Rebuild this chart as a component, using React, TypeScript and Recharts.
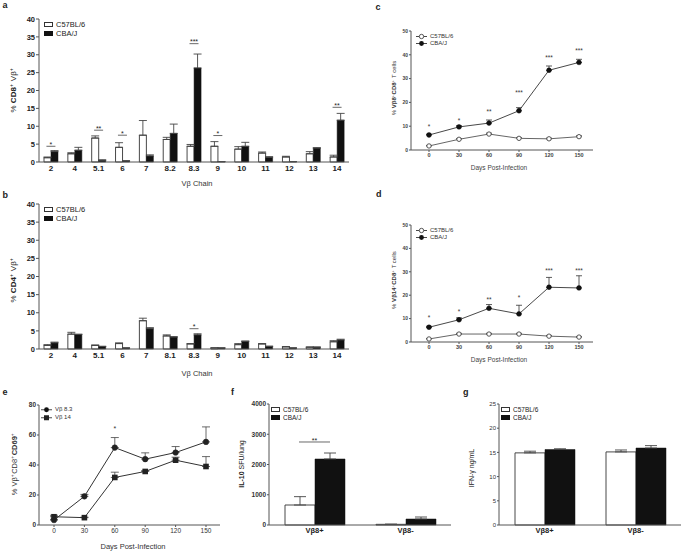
import React from 'react';
import { BarChart, Bar, LineChart, Line, XAxis, YAxis, ErrorBar, ReferenceDot, Legend } from 'recharts';

const FONT = "'Liberation Sans', Arial, Helvetica, sans-serif";

// ---------- Panel a: CD8+ Vβ ----------
const aCats = ['2', '4', '5.1', '6', '7', '8.2', '8.3', '9', '10', '11', '12', '13', '14'];
const aB6 = [1.2, 2.3, 6.7, 4.1, 7.5, 6.3, 4.4, 4.4, 3.6, 2.5, 1.4, 2.3, 1.4];
const aB6Err = [0.2, 0.3, 0.6, 1.3, 4.1, 0.6, 0.5, 1.3, 0.7, 0.3, 0.2, 0.6, 0.5];
const aCBA = [2.9, 3.3, 0.5, 0.3, 1.7, 8.0, 26.3, 0.1, 4.4, 1.3, 0.1, 3.9, 11.7];
const aCBAErr = [0.3, 0.8, 0.1, 0.05, 0.3, 2.6, 3.9, 0, 1.1, 0.2, 0, 0.1, 1.9];
const aSigCats = ['2', '5.1', '6', '8.3', '9', '14'];
const aSigLabels = ['*', '**', '*', '***', '*', '**'];
const aSigY = [4.4, 8.9, 7.5, 33.1, 7.4, 15.3];

// ---------- Panel b: CD4+ Vβ ----------
const bCats = ['2', '4', '5.1', '6', '7', '8.1', '8.3', '9', '10', '11', '12', '13', '14'];
const bB6 = [1.0, 4.1, 1.0, 1.5, 7.8, 3.6, 1.4, 0.3, 1.2, 1.4, 0.6, 0.5, 2.0];
const bB6Err = [0.2, 0.5, 0.1, 0.2, 0.7, 0.3, 0.1, 0, 0.3, 0.1, 0.05, 0.05, 0.3];
const bCBA = [1.7, 4.0, 0.7, 0.3, 5.6, 3.3, 3.9, 0.3, 2.1, 0.7, 0.3, 0.5, 2.5];
const bCBAErr = [0.2, 0.1, 0.05, 0, 0.3, 0.1, 0.3, 0, 0.1, 0.1, 0, 0.05, 0.2];
const bSigCats = ['8.3'];
const bSigLabels = ['*'];
const bSigY = [5.6];

const vbTicks = [0, 5, 10, 15, 20, 25, 30, 35, 40];

// ---------- Panels c, d: time course ----------
const days = [0, 30, 60, 90, 120, 150];
const dayTicks = [0, 30, 60, 90, 120, 150];
const pctTicks = [0, 10, 20, 30, 40, 50];

const cB6 = [1.7, 4.5, 6.7, 4.9, 4.7, 5.6];
const cB6Err = [0.2, 0.3, 0.4, 0.3, 0.3, 0.4];
const cCBA = [6.3, 9.7, 11.3, 16.5, 33.5, 36.8];
const cCBAErr = [0.3, 0.5, 1.3, 1.3, 1.8, 1.3];
const cSig = ['*', '*', '**', '***', '***', '***'];
const cSigY = [10.4, 12.9, 16.8, 24.9, 39.2, 42.4];

const dB6 = [1.3, 3.4, 3.4, 3.4, 2.5, 2.1];
const dB6Err = [0.2, 0.3, 0.3, 0.3, 0.3, 0.2];
const dCBA = [6.3, 9.5, 14.4, 12.0, 23.4, 23.1];
const dCBAErr = [0.4, 0.8, 1.6, 3.7, 4.2, 5.2];
const dSig = ['*', '*', '**', '*', '***', '***'];
const dSigY = [10.8, 13.4, 18.5, 19.4, 31.3, 31.3];

// ---------- Panel e: CD69 ----------
const e83 = [3.3, 19.1, 51.6, 43.9, 48.3, 55.4];
const e83Err = [0.5, 1.3, 6.7, 4.2, 4.0, 10.0];
const e14 = [5.5, 4.9, 31.7, 35.7, 43.2, 39.0];
const e14Err = [1.0, 0.3, 3.5, 0.5, 2.0, 6.6];
const eTicks = [0, 20, 40, 60, 80];
const eSigDay = 60;
const eSigY = 65.4;

// ---------- Panel f: IL-10 ----------
const fCats = ['Vβ8+', 'Vβ8-'];
const fB6 = [661, 22];
const fB6Err = [276, 5];
const fCBA = [2182, 198];
const fCBAErr = [198, 66];
const fTicks = [0, 1000, 2000, 3000, 4000];
const fSigY = 2744;

// ---------- Panel g: IFN-γ ----------
const gCats = ['Vβ8+', 'Vβ8-'];
const gB6 = [14.9, 15.1];
const gB6Err = [0.35, 0.4];
const gCBA = [15.6, 15.9];
const gCBAErr = [0.15, 0.5];
const gTicks = [0, 5, 10, 15, 20, 25];

// ---------- data builders ----------
const barRows = (cats: string[], w: number[], we: number[], k: number[], ke: number[]) =>
  cats.map((c, i) => ({ cat: c, b6: w[i], b6e: [0, we[i]], cba: k[i], cbae: [0, ke[i]] }));

const lineRows = (w: number[], we: number[], k: number[], ke: number[]) =>
  days.map((d, i) => ({ day: d, s1: w[i], s1e: [0, we[i]], s2: k[i], s2e: [0, ke[i]] }));

const aData = barRows(aCats, aB6, aB6Err, aCBA, aCBAErr);
const bData = barRows(bCats, bB6, bB6Err, bCBA, bCBAErr);
const cData = lineRows(cB6, cB6Err, cCBA, cCBAErr);
const dData = lineRows(dB6, dB6Err, dCBA, dCBAErr);
const eData = lineRows(e83, e83Err, e14, e14Err);
const fData = barRows(fCats, fB6, fB6Err, fCBA, fCBAErr);
const gData = barRows(gCats, gB6, gB6Err, gCBA, gCBAErr);

const AX = '#555';

// ---------- shapes ----------
const sigBarShape = (label: string, half: number, fs: number) => (p: any) => {
  const { cx, cy } = p;
  return (
    <g>
      <line x1={cx - half} x2={cx + half} y1={cy} y2={cy} stroke="#444" strokeWidth={0.8} />
      <text x={cx} y={cy - 3.3 + fs * 0.58} textAnchor="middle" fontSize={fs} fontFamily={FONT} fill="#222">
        {label}
      </text>
    </g>
  );
};

const sigText = (label: string, fs: number) => (p: any) => {
  const { cx, cy } = p;
  return (
    <text x={cx} y={cy + fs * 0.58} textAnchor="middle" fontSize={fs} fontFamily={FONT} fill="#333">
      {label}
    </text>
  );
};

const SquareDot = (p: any) => {
  const { cx, cy } = p;
  if (cx == null || cy == null) return null;
  return <rect x={cx - 2.8} y={cy - 2.8} width={5.6} height={5.6} fill="#222" />;
};

// ---------- legends ----------
const BarLegend = ({ fs, rowH }: { fs: number; rowH: number }) => (
  <div style={{ fontFamily: FONT, fontSize: fs, color: '#222', lineHeight: `${rowH}px` }}>
    <div style={{ display: 'flex', alignItems: 'center', height: rowH, whiteSpace: 'nowrap' }}>
      <span style={{ display: 'inline-block', width: 7, height: 3, border: '1px solid #333', background: '#fff', marginRight: 3 }} />
      C57BL/6
    </div>
    <div style={{ display: 'flex', alignItems: 'center', height: rowH, whiteSpace: 'nowrap' }}>
      <span style={{ display: 'inline-block', width: 9, height: 5, background: '#111', marginRight: 3 }} />
      CBA/J
    </div>
  </div>
);

const LineLegend = ({ fs, rowH, labels, shapes }: { fs: number; rowH: number; labels: string[]; shapes: string[] }) => (
  <div style={{ fontFamily: FONT, fontSize: fs, color: '#333', lineHeight: `${rowH}px` }}>
    {labels.map((l, i) => (
      <div key={l} style={{ display: 'flex', alignItems: 'center', height: rowH, whiteSpace: 'nowrap' }}>
        <svg width={11} height={rowH} style={{ marginRight: 3 }}>
          <line x1={0} x2={11} y1={rowH / 2} y2={rowH / 2} stroke="#333" strokeWidth={0.9} />
          {shapes[i] === 'open' && <circle cx={5.5} cy={rowH / 2} r={2.2} fill="#fff" stroke="#444" strokeWidth={0.9} />}
          {shapes[i] === 'filled' && <circle cx={5.5} cy={rowH / 2} r={2.4} fill="#111" />}
          {shapes[i] === 'square' && <rect x={3} y={rowH / 2 - 2.5} width={5} height={5} fill="#222" />}
        </svg>
        {l}
      </div>
    ))}
  </div>
);

const legendProps = {
  layout: 'horizontal' as const,
  verticalAlign: 'middle' as const,
  align: 'center' as const,
};

// ---------- frame axes (top & right) ----------
const frameTop = (dataKey: string, type: 'category' | 'number', domain?: any) => (
  <XAxis xAxisId="top" orientation="top" dataKey={dataKey} type={type} domain={domain} height={0} tick={false} tickLine={false} axisLine={{ stroke: AX }} />
);
const frameRight = () => (
  <YAxis yAxisId="r" orientation="right" width={0} domain={[0, 1]} tick={false} tickLine={false} axisLine={{ stroke: AX }} />
);

// ---------- panel components ----------
function VbPanel({ data, sigCats, sigLabels, sigY, top, height }: any) {
  return (
    <div style={{ position: 'absolute', left: 0, top }}>
      <BarChart width={354} height={height} data={data} margin={{ top: 19, right: 5, left: 0, bottom: 0 }} barGap={0}>
        {frameTop('cat', 'category')}
        {frameRight()}
        <XAxis dataKey="cat" height={30} tickLine={false} tickSize={0} tickMargin={3} axisLine={{ stroke: AX }}
          tick={{ fontSize: 8, fontWeight: 700, fill: '#222', fontFamily: FONT }} interval={0} />
        <YAxis width={39} domain={[0, 40]} ticks={vbTicks} interval={0} tickSize={3} tickMargin={1} axisLine={{ stroke: AX }}
          tickLine={{ stroke: AX }} tick={{ fontSize: 7.5, fontWeight: 700, fill: '#222', fontFamily: FONT }} />
        <Legend {...legendProps} wrapperStyle={{ left: 44, top: 20, width: 80, height: 20 }}
          content={() => <BarLegend fs={7.5} rowH={9} />} />
        <Bar dataKey="b6" fill="#fff" stroke="#333" strokeWidth={0.9} barSize={7} isAnimationActive={false}>
          <ErrorBar dataKey="b6e" width={4} stroke="#444" strokeWidth={0.9} />
        </Bar>
        <Bar dataKey="cba" fill="#111" stroke="#111" strokeWidth={0.5} barSize={7} isAnimationActive={false}>
          <ErrorBar dataKey="cbae" width={4} stroke="#444" strokeWidth={0.9} />
        </Bar>
        {sigCats.map((c: string, i: number) => (
          <ReferenceDot key={c} x={c} y={sigY[i]} ifOverflow="visible" shape={sigBarShape(sigLabels[i], 4.5, 7)} />
        ))}
      </BarChart>
    </div>
  );
}

function TimePanel({ data, sig, sigY, top }: any) {
  return (
    <div style={{ position: 'absolute', left: 380, top }}>
      <LineChart width={218} height={top === 0 ? 170 : 168} data={data} margin={{ top: 31, right: 5, left: 0, bottom: 0 }}>
        {frameTop('day', 'number', [0, 150])}
        {frameRight()}
        <XAxis dataKey="day" type="number" domain={[0, 150]} ticks={dayTicks} interval={0} padding={{ left: 18, right: 14 }}
          height={20} tickSize={2} tickMargin={1} axisLine={{ stroke: AX }} tickLine={{ stroke: AX }}
          tick={{ fontSize: 5.5, fontWeight: 700, fill: '#444', fontFamily: FONT }} />
        <YAxis width={31} domain={[0, 50]} ticks={pctTicks} interval={0} tickSize={2} tickMargin={1} axisLine={{ stroke: AX }}
          tickLine={{ stroke: AX }} tick={{ fontSize: 5, fontWeight: 700, fill: '#444', fontFamily: FONT }} />
        <Legend {...legendProps} wrapperStyle={{ left: 36, top: 33, width: 60, height: 16 }}
          content={() => <LineLegend fs={6} rowH={7} labels={['C57BL/6', 'CBA/J']} shapes={['open', 'filled']} />} />
        <Line dataKey="s1" stroke="#555" strokeWidth={0.9} isAnimationActive={false}
          dot={{ r: 2.2, fill: '#fff', stroke: '#444', strokeWidth: 0.9 }}>
          <ErrorBar dataKey="s1e" width={3} stroke="#555" strokeWidth={0.8} />
        </Line>
        <Line dataKey="s2" stroke="#333" strokeWidth={0.9} isAnimationActive={false}
          dot={{ r: 2.4, fill: '#111', stroke: '#111', strokeWidth: 0.5 }}>
          <ErrorBar dataKey="s2e" width={3} stroke="#333" strokeWidth={0.8} />
        </Line>
        {days.map((d, i) => (
          <ReferenceDot key={d} x={d} y={sigY[i]} ifOverflow="visible" shape={sigText(sig[i], 6.5)} />
        ))}
      </LineChart>
    </div>
  );
}

function CD69Panel() {
  return (
    <div style={{ position: 'absolute', left: 0, top: 380 }}>
      <LineChart width={225} height={165} data={eData} margin={{ top: 25, right: 5, left: 0, bottom: 0 }}>
        {frameTop('day', 'number', [0, 150])}
        {frameRight()}
        <XAxis dataKey="day" type="number" domain={[0, 150]} ticks={dayTicks} interval={0} padding={{ left: 15, right: 14 }}
          height={20} tickSize={2} tickMargin={1} axisLine={{ stroke: AX }} tickLine={{ stroke: AX }}
          tick={{ fontSize: 6.5, fill: '#333', fontFamily: FONT }} />
        <YAxis width={39} domain={[0, 80]} ticks={eTicks} interval={0} tickSize={2} tickMargin={1} axisLine={{ stroke: AX }}
          tickLine={{ stroke: AX }} tick={{ fontSize: 6.5, fontWeight: 700, fill: '#333', fontFamily: FONT }} />
        <Legend {...legendProps} wrapperStyle={{ left: 41, top: 26, width: 60, height: 16 }}
          content={() => <LineLegend fs={6} rowH={7.5} labels={['Vβ 8.3', 'Vβ 14']} shapes={['filled', 'square']} />} />
        <Line dataKey="s1" stroke="#333" strokeWidth={1} isAnimationActive={false}
          dot={{ r: 2.8, fill: '#222', stroke: '#222', strokeWidth: 0.5 }}>
          <ErrorBar dataKey="s1e" width={4} stroke="#444" strokeWidth={0.8} />
        </Line>
        <Line dataKey="s2" stroke="#333" strokeWidth={1} isAnimationActive={false} dot={<SquareDot />}>
          <ErrorBar dataKey="s2e" width={4} stroke="#444" strokeWidth={0.8} />
        </Line>
        <ReferenceDot x={eSigDay} y={eSigY} ifOverflow="visible" shape={sigText('*', 7)} />
      </LineChart>
    </div>
  );
}

function PairPanel({ data, left, ticks, domain, sigY, tickFs, tickBold }: any) {
  return (
    <div style={{ position: 'absolute', left, top: 380 }}>
      <BarChart width={226} height={166} data={data} margin={{ top: 24, right: 5, left: 0, bottom: 0 }} barGap={0}>
        {frameTop('cat', 'category')}
        {frameRight()}
        <XAxis dataKey="cat" height={21} tickLine={false} tickSize={0} tickMargin={3} axisLine={{ stroke: AX }}
          tick={{ fontSize: 7.5, fontWeight: 700, fill: '#222', fontFamily: FONT }} interval={0} />
        <YAxis width={39} domain={domain} ticks={ticks} interval={0} tickSize={2} tickMargin={1} axisLine={{ stroke: AX }}
          tickLine={{ stroke: AX }} tick={{ fontSize: tickFs, fontWeight: tickBold ? 700 : 400, fill: '#333', fontFamily: FONT }} />
        <Legend {...legendProps} wrapperStyle={{ left: 41, top: 26, width: 70, height: 18 }}
          content={() => <BarLegend fs={6.5} rowH={7.5} />} />
        <Bar dataKey="b6" fill="#fff" stroke="#333" strokeWidth={0.9} barSize={30} isAnimationActive={false}>
          <ErrorBar dataKey="b6e" width={6} stroke="#444" strokeWidth={0.9} />
        </Bar>
        <Bar dataKey="cba" fill="#111" stroke="#111" strokeWidth={0.5} barSize={30} isAnimationActive={false}>
          <ErrorBar dataKey="cbae" width={6} stroke="#444" strokeWidth={0.9} />
        </Bar>
        {sigY != null && (
          <ReferenceDot x={data[0].cat} y={sigY} ifOverflow="visible" shape={sigBarShape('**', 15.5, 7)} />
        )}
      </BarChart>
    </div>
  );
}

// ---------- overlay text ----------
const Sup = ({ c, fs }: { c: string; fs: number }) => (
  <>
    <tspan dy={-fs * 0.4} fontSize={fs * 0.65}>{c}</tspan>
    <tspan dy={fs * 0.4}>{'\u200A'}</tspan>
  </>
);

function Overlay() {
  const t = { fontFamily: FONT, fill: '#222' } as any;
  const rot = (x: number, y: number) => `rotate(-90 ${x} ${y})`;
  return (
    <svg width={686} height={553} style={{ position: 'absolute', left: 0, top: 0, pointerEvents: 'none' }}>
      {/* panel letters */}
      <text x={2.5} y={8} fontSize={9} fontWeight={700} {...t}>a</text>
      <text x={2.5} y={197.5} fontSize={9} fontWeight={700} {...t}>b</text>
      <text x={375.5} y={10} fontSize={9} fontWeight={700} {...t}>c</text>
      <text x={376} y={196.5} fontSize={9} fontWeight={700} {...t}>d</text>
      <text x={2.5} y={395} fontSize={9} fontWeight={700} {...t}>e</text>
      <text x={231} y={395} fontSize={9} fontWeight={700} {...t}>f</text>
      <text x={463} y={395} fontSize={9} fontWeight={700} {...t}>g</text>

      {/* a */}
      <text x={16} y={90} fontSize={8} textAnchor="middle" transform={rot(16, 90)} {...t}>
        {'% '}<tspan fontWeight={700}>CD8</tspan><Sup c="+" fs={8} />{' Vβ'}<Sup c="+" fs={8} />
      </text>
      <text x={197} y={186} fontSize={7.5} textAnchor="middle" {...t} fill="#333">Vβ Chain</text>

      {/* b */}
      <text x={16} y={280} fontSize={8} textAnchor="middle" transform={rot(16, 280)} {...t}>
        {'% '}<tspan fontWeight={700}>CD4</tspan><Sup c="+" fs={8} />{' Vβ'}<Sup c="+" fs={8} />
      </text>
      <text x={197} y={376} fontSize={7.5} textAnchor="middle" {...t} fill="#333">Vβ Chain</text>

      {/* c */}
      <text x={396} y={88} fontSize={6} textAnchor="middle" transform={rot(396, 88)} {...t} fill="#333">
        {'% '}<tspan fontWeight={700}>Vβ8</tspan><Sup c="+" fs={6} /><tspan fontWeight={700}>CD8</tspan><Sup c="+" fs={6} />{' T cells'}
      </text>
      <text x={499} y={169.5} fontSize={6.5} textAnchor="middle" {...t} fill="#444">Days Post-Infection</text>

      {/* d */}
      <text x={396} y={280} fontSize={6} textAnchor="middle" transform={rot(396, 280)} {...t} fill="#333">
        {'% '}<tspan fontWeight={700}>Vβ14</tspan><Sup c="+" fs={6} /><tspan fontWeight={700}>CD8</tspan><Sup c="+" fs={6} />{' T cells'}
      </text>
      <text x={499} y={361.5} fontSize={6.5} textAnchor="middle" {...t} fill="#444">Days Post-Infection</text>

      {/* e */}
      <text x={17} y={464} fontSize={7.5} textAnchor="middle" transform={rot(17, 464)} {...t} fill="#333">
        {'% Vβ'}<Sup c="+" fs={7.5} />{'CD8'}<Sup c="+" fs={7.5} /><tspan fontWeight={700}>CD69</tspan><Sup c="+" fs={7.5} />
      </text>
      <text x={133} y={548.5} fontSize={7.5} textAnchor="middle" {...t} fill="#333">Days Post-Infection</text>

      {/* f */}
      <text x={244} y={464} fontSize={7} textAnchor="middle" transform={rot(244, 464)} {...t}>
        <tspan fontWeight={700}>IL-10</tspan>{' SFU/lung'}
      </text>

      {/* g */}
      <text x={474} y={468} fontSize={7} textAnchor="middle" transform={rot(474, 468)} {...t}>
        IFN-γ ng/mL
      </text>
    </svg>
  );
}

export default function App() {
  return (
    <div style={{ position: 'absolute', left: 0, top: 0, width: 686, height: 553, background: '#fff', overflow: 'hidden' }}>
      <VbPanel data={aData} sigCats={aSigCats} sigLabels={aSigLabels} sigY={aSigY} top={0} height={192} />
      <VbPanel data={bData} sigCats={bSigCats} sigLabels={bSigLabels} sigY={bSigY} top={185} height={194} />
      <TimePanel data={cData} sig={cSig} sigY={cSigY} top={0} />
      <TimePanel data={dData} sig={dSig} sigY={dSigY} top={194} />
      <CD69Panel />
      <PairPanel data={fData} left={230} ticks={fTicks} domain={[0, 4000]} sigY={fSigY} tickFs={6.5} tickBold />
      <PairPanel data={gData} left={460} ticks={gTicks} domain={[0, 25]} sigY={null} tickFs={6} tickBold={false} />
      <Overlay />
    </div>
  );
}
